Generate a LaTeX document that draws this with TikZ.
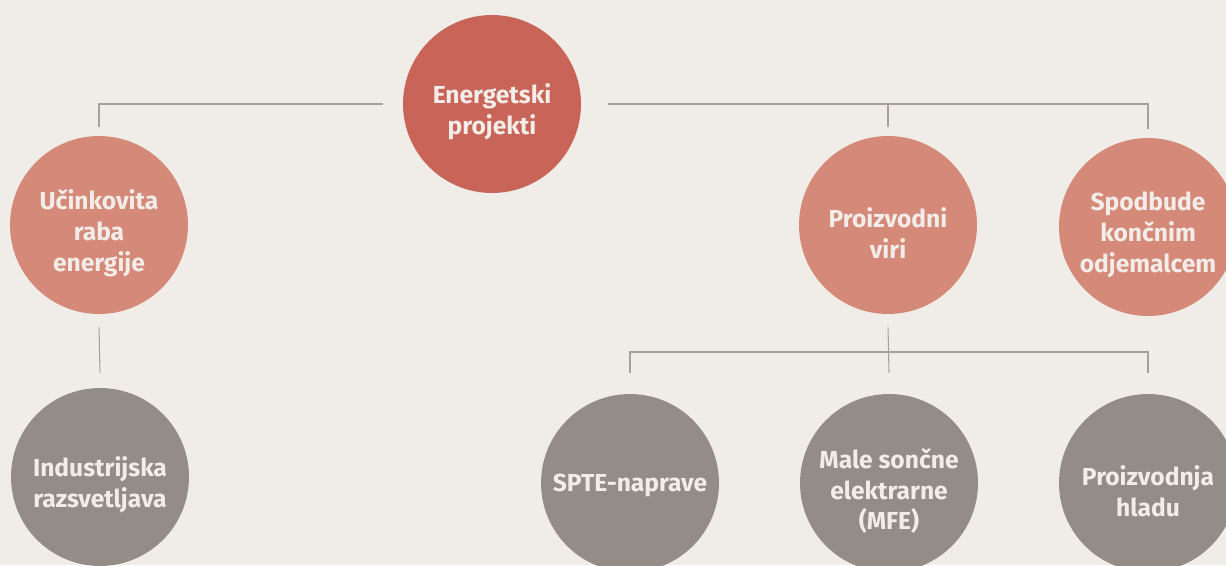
\documentclass[tikz,border=0pt]{standalone}
\usepackage{fontspec}
\setmainfont{Fira Sans}
\usetikzlibrary{positioning, calc}

\definecolor{bgpaper}{HTML}{F0EDE8}
\definecolor{topred}{HTML}{C96459}
\definecolor{midrose}{HTML}{D48979}
\definecolor{lowgrey}{HTML}{948C86}
\definecolor{linegrey}{HTML}{A7A19C}
\definecolor{txtlight}{HTML}{F2EDE8}

\tikzset{
  bubble/.style={circle, minimum size=3.56cm, inner sep=0pt},
  btext/.style={align=center, text=txtlight, yshift=-0.16cm,
    font=\fontsize{14}{17.6}\selectfont\bfseries},
  topbubble/.style={bubble, fill=topred},
  midbubble/.style={bubble, fill=midrose},
  lowbubble/.style={bubble, fill=lowgrey},
  conn/.style={draw=linegrey, line width=0.6pt}
}

\begin{document}
\begin{tikzpicture}[x=0.02cm, y=-0.02cm]

 %% canvas, same size as the page
\fill[bgpaper] (0,0) rectangle (1226,565);
\useasboundingbox (0,0) rectangle (1226,565);
\clip (0,0) rectangle (1226,565);

 %% level 1
\node[topbubble, label={[btext]center:{Energetski\\projekti}}] (ep) at (492,104) {};

 %% level 2
\node[midbubble, label={[btext]center:{Učinkovita\\raba\\energije}}] (urej) at (99,225) {};
\node[midbubble, label={[btext]center:{Proizvodni\\viri}}] (pv) at (888,225) {};
\node[midbubble, label={[btext]center:{Spodbude\\končnim\\odjemalcem}}] (spod) at (1148,227) {};

 %% level 3
\node[lowbubble, label={[btext]center:{Industrijska\\razsvetljava}}] (ind) at (100,477) {};
\node[lowbubble, label={[btext, yshift=0.12cm]center:{SPTE-naprave}}] (spte) at (630,483) {};
\node[lowbubble, label={[btext]center:{Male sončne\\elektrarne\\(MFE)}}] (mse) at (889,483) {};
\node[lowbubble, label={[btext]center:{Proizvodnja\\hladu}}] (hlad) at (1148,483) {};

 %% connectors level 1 -> 2
\draw[conn] ([xshift=-0.4cm]ep.west) -| ([yshift=0.18cm]urej.north);
\draw[conn] ([xshift=0.54cm]ep.east) -| ([yshift=0.18cm]spod.north);
\draw[conn] (pv.north |- ep.east) -- ([yshift=0.18cm]pv.north);

 %% connectors level 2 -> 3
\draw[conn] ([yshift=-0.26cm]urej.south) -- ([yshift=0.3cm]ind.north);

\coordinate (split) at (888,352);
\draw[conn] ([yshift=-0.26cm]pv.south) -- ([yshift=0.42cm]mse.north);
\draw[conn] ([yshift=0.42cm]spte.north) |- (split) -| ([yshift=0.42cm]hlad.north);

\end{tikzpicture}
\end{document}
